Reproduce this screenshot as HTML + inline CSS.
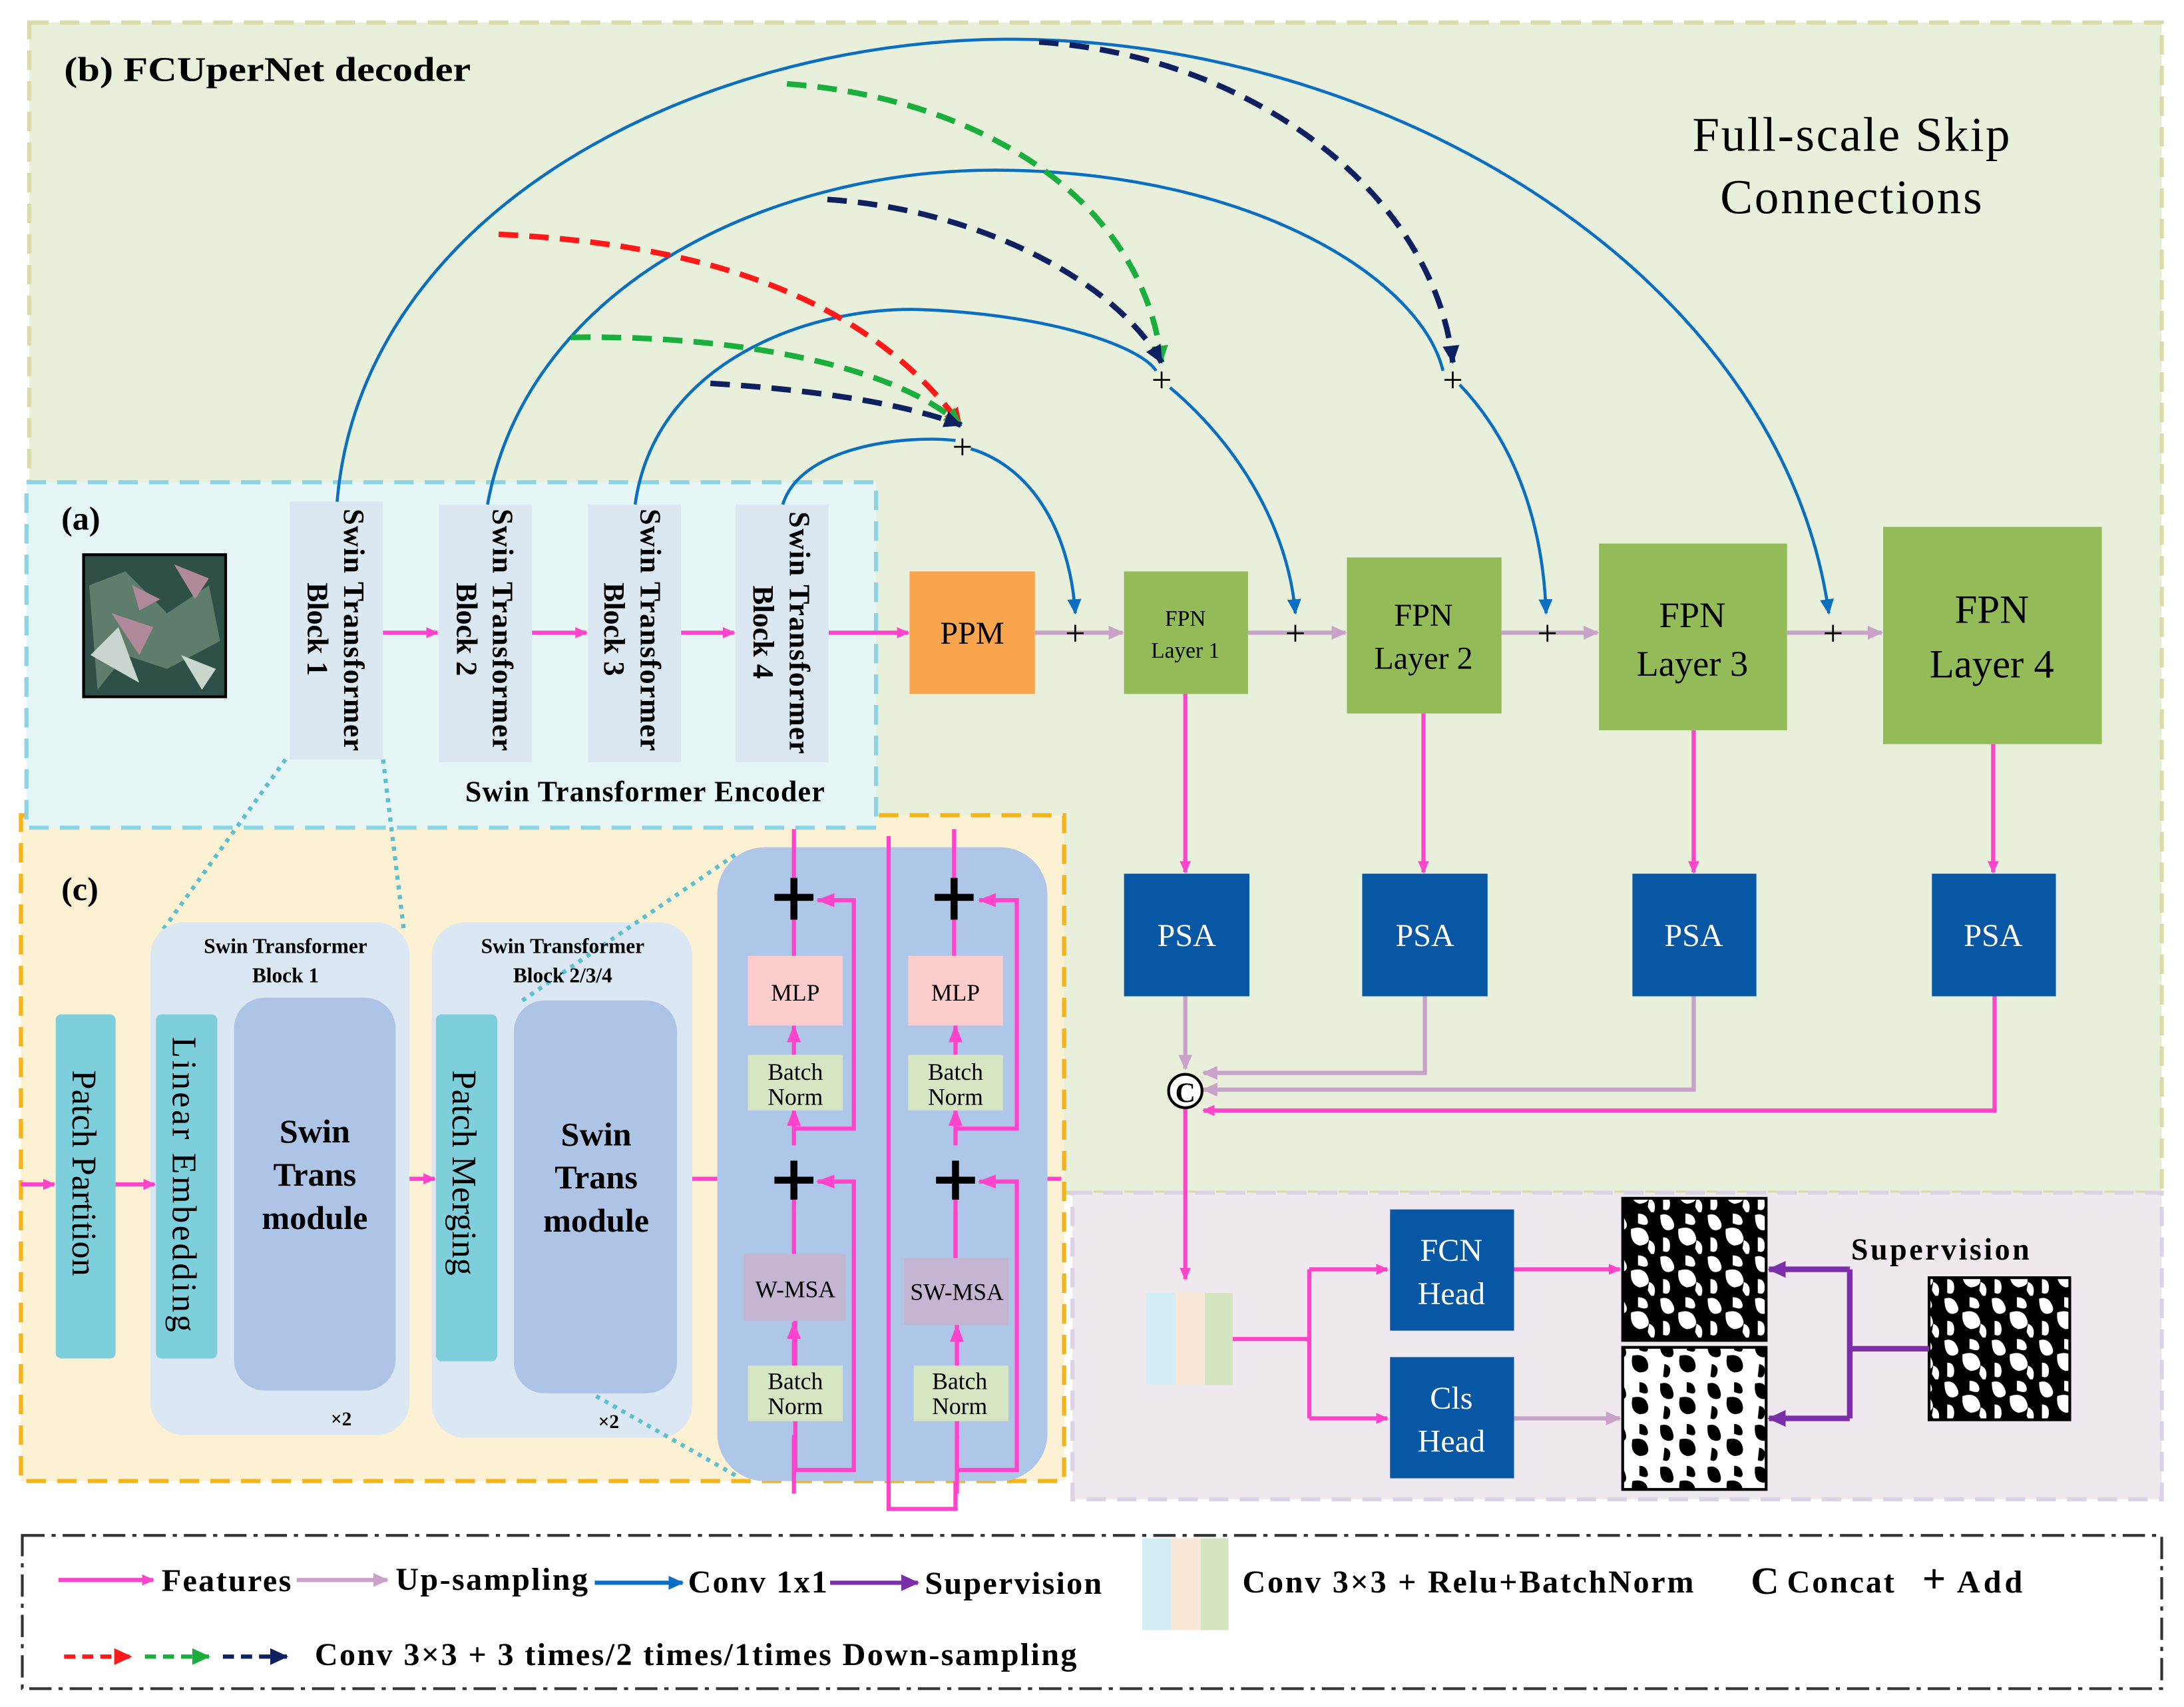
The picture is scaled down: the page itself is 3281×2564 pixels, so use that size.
<!DOCTYPE html>
<html><head><meta charset="utf-8"><style>
html,body{margin:0;padding:0;background:#fff}
svg{display:block}
text{font-family:"Liberation Serif",serif}
</style></head><body>
<svg width="3281" height="2564" viewBox="0 0 1568 1225" xmlns="http://www.w3.org/2000/svg">
<defs>
<marker id="pk" markerWidth="10" markerHeight="10" refX="8" refY="5" orient="auto" markerUnits="userSpaceOnUse"><path d="M0,1 L9,5 L0,9z" fill="#ff44cc"/></marker>
<marker id="pkL" markerWidth="14" markerHeight="12" refX="12" refY="6" orient="auto" markerUnits="userSpaceOnUse"><path d="M0,1 L13,6 L0,11z" fill="#ff44cc"/></marker>
<marker id="gy" markerWidth="12" markerHeight="12" refX="10" refY="6" orient="auto" markerUnits="userSpaceOnUse"><path d="M0,1 L11,6 L0,11z" fill="#c8a2c8"/></marker>
<marker id="bl" markerWidth="12" markerHeight="12" refX="10" refY="6" orient="auto" markerUnits="userSpaceOnUse"><path d="M0,1 L11,6 L0,11z" fill="#0a6fc2"/></marker>
<marker id="pu" markerWidth="14" markerHeight="14" refX="12" refY="7" orient="auto" markerUnits="userSpaceOnUse"><path d="M0,1 L13,7 L0,13z" fill="#7a2ea8"/></marker>
<marker id="rd" markerWidth="14" markerHeight="14" refX="12" refY="7" orient="auto" markerUnits="userSpaceOnUse"><path d="M0,1 L13,7 L0,13z" fill="#ff1a1a"/></marker>
<marker id="gn" markerWidth="14" markerHeight="14" refX="12" refY="7" orient="auto" markerUnits="userSpaceOnUse"><path d="M0,1 L13,7 L0,13z" fill="#1aae3c"/></marker>
<marker id="nv" markerWidth="14" markerHeight="14" refX="12" refY="7" orient="auto" markerUnits="userSpaceOnUse"><path d="M0,1 L13,7 L0,13z" fill="#0f2060"/></marker>
<pattern id="noise" width="34" height="30" patternUnits="userSpaceOnUse"><rect width="34" height="30" fill="#000"/><path d="M2,2 q6,-2 9,4 t-3,7 q-6,0 -6,-11z M15,12 q9,-3 12,4 t-6,8 q-7,-2 -6,-12z M4,18 q5,0 5,6 t-5,4z M20,1 q6,0 7,5 t-7,2z M28,20 q5,2 4,8 t-5,-2z" fill="#fff"/></pattern>
<pattern id="noise2" width="34" height="30" patternUnits="userSpaceOnUse"><rect width="34" height="30" fill="#fff"/><path d="M2,3 q7,-2 9,5 t-4,6 q-6,-1 -5,-11z M16,13 q9,-2 11,5 t-6,7 q-7,-2 -5,-12z M5,19 q5,1 4,6 t-5,3z M21,2 q5,0 6,5 t-6,2z" fill="#000"/></pattern>
</defs>

<rect x="21" y="16" width="1531" height="840" fill="#e8f0dc" stroke="#d9dba8" stroke-width="3" stroke-dasharray="14,8"/>
<rect x="770" y="856" width="782" height="220" fill="#efe8ef" stroke="#dcd4e6" stroke-width="3" stroke-dasharray="14,8"/>
<rect x="15" y="585" width="749" height="478" fill="#fdf1d3" stroke="#f4b41a" stroke-width="3" stroke-dasharray="14,8"/>
<rect x="19" y="346" width="610" height="248" fill="#e6f6f6" stroke="#8cd4e4" stroke-width="3" stroke-dasharray="14,8"/>
<rect x="16" y="1102" width="1536" height="110" fill="#fff" stroke="#333" stroke-width="2" stroke-dasharray="16,5,3,5"/>

<text x="46" y="58" font-size="25" font-weight="bold" textLength="292" lengthAdjust="spacingAndGlyphs">(b)  FCUperNet decoder</text>
<text x="1329" y="108" font-size="35" text-anchor="middle" textLength="228">Full-scale Skip</text>
<text x="1329" y="153" font-size="35" text-anchor="middle" textLength="188">Connections</text>
<text x="44" y="380" font-size="24" font-weight="bold">(a)</text>
<text x="44" y="646" font-size="24" font-weight="bold">(c)</text>

<rect x="60" y="398" width="102" height="102" fill="#2f5046" stroke="#000" stroke-width="2"/>
<path d="M64,420 L90,410 L120,440 L150,420 L158,460 L120,480 L90,470 L70,495z" fill="#5f7d6c"/>
<path d="M80,440 L110,450 L100,470z M125,405 L150,415 L140,430z M95,420 L115,430 L100,438z" fill="#b08a9a"/>
<path d="M65,470 L85,450 L100,490z M130,470 L155,480 L145,495z" fill="#c9d6d0"/>

<g fill="#dbe8f2">
<rect x="208" y="360" width="67" height="185"/><rect x="315" y="362" width="67" height="185"/>
<rect x="422" y="362" width="67" height="185"/><rect x="528" y="362" width="67" height="185"/>
</g>
<g font-size="21" font-weight="bold">
<text transform="translate(247,365) rotate(90)" textLength="174">Swin Transformer</text><text transform="translate(221,418) rotate(90)">Block 1</text>
<text transform="translate(354,365) rotate(90)" textLength="174">Swin Transformer</text><text transform="translate(328,418) rotate(90)">Block 2</text>
<text transform="translate(460,365) rotate(90)" textLength="174">Swin Transformer</text><text transform="translate(434,418) rotate(90)">Block 3</text>
<text transform="translate(567,367) rotate(90)" textLength="174">Swin Transformer</text><text transform="translate(541,420) rotate(90)">Block 4</text>
</g>
<g stroke="#ff44cc" stroke-width="3" marker-end="url(#pk)">
<line x1="275" y1="454" x2="314" y2="454"/><line x1="382" y1="454" x2="421" y2="454"/><line x1="489" y1="454" x2="527" y2="454"/><line x1="595" y1="454" x2="652" y2="454"/>
</g>
<text x="463" y="575" font-size="21" font-weight="bold" text-anchor="middle" textLength="258">Swin Transformer Encoder</text>

<rect x="653" y="410" width="90" height="88" fill="#f8a54e"/>
<text x="698" y="462" font-size="23" text-anchor="middle">PPM</text>
<g fill="#93bb58">
<rect x="807" y="410" width="89" height="88"/><rect x="967" y="400" width="111" height="112"/>
<rect x="1148" y="390" width="135" height="134"/><rect x="1352" y="378" width="157" height="156"/>
</g>
<text x="851" y="449" font-size="16" text-anchor="middle">FPN</text><text x="851" y="472" font-size="16" text-anchor="middle">Layer 1</text>
<text x="1022" y="449" font-size="23" text-anchor="middle">FPN</text><text x="1022" y="480" font-size="23" text-anchor="middle">Layer 2</text>
<text x="1215" y="450" font-size="26" text-anchor="middle">FPN</text><text x="1215" y="485" font-size="26" text-anchor="middle">Layer 3</text>
<text x="1430" y="447" font-size="29" text-anchor="middle">FPN</text><text x="1430" y="486" font-size="29" text-anchor="middle">Layer 4</text>

<g stroke="#c8a2c8" stroke-width="3" marker-end="url(#gy)">
<line x1="743" y1="454" x2="806" y2="454"/><line x1="896" y1="454" x2="966" y2="454"/>
<line x1="1078" y1="454" x2="1147" y2="454"/><line x1="1283" y1="454" x2="1351" y2="454"/>
</g>
<g font-size="26" text-anchor="middle"><text x="772" y="463">+</text><text x="930" y="463">+</text><text x="1111" y="463">+</text><text x="1316" y="463">+</text>
<text x="691" y="329">+</text><text x="834" y="281">+</text><text x="1043" y="281">+</text></g>

<g fill="none" stroke="#0a6fc2" stroke-width="2.2">
<path d="M242,360 C260,150 500,30 720,28 C1000,26 1280,200 1313,440" marker-end="url(#bl)"/>
<path d="M350,362 C380,200 560,120 720,122 C900,124 1020,200 1036,266"/>
<path d="M1048,276 C1090,320 1108,380 1110,440" marker-end="url(#bl)"/>
<path d="M456,362 C470,260 580,220 660,222 C760,226 820,250 830,266"/>
<path d="M840,278 C890,320 925,380 930,440" marker-end="url(#bl)"/>
<path d="M562,362 C575,320 650,312 686,316"/>
<path d="M697,322 C740,335 768,380 772,440" marker-end="url(#bl)"/>
</g>
<g fill="none" stroke-width="4" stroke-dasharray="14,8">
<path d="M358,168 C500,175 620,210 690,305" stroke="#ff1a1a" marker-end="url(#rd)"/>
<path d="M410,242 C520,240 640,260 690,305" stroke="#1aae3c" marker-end="url(#gn)"/>
<path d="M510,275 C590,280 650,290 690,305" stroke="#0f2060" marker-end="url(#nv)"/>
<path d="M565,60 C700,70 820,140 834,260" stroke="#1aae3c" marker-end="url(#gn)"/>
<path d="M594,143 C700,150 800,200 834,260" stroke="#0f2060" marker-end="url(#nv)"/>
<path d="M746,30 C900,40 1030,140 1043,260" stroke="#0f2060" marker-end="url(#nv)"/>
</g>

<g fill="#0757a4"><rect x="807" y="627" width="90" height="88"/><rect x="978" y="627" width="90" height="88"/><rect x="1172" y="627" width="89" height="88"/><rect x="1387" y="627" width="89" height="88"/></g>
<g fill="#fff" font-size="23" text-anchor="middle"><text x="852" y="679">PSA</text><text x="1023" y="679">PSA</text><text x="1216" y="679">PSA</text><text x="1431" y="679">PSA</text></g>
<g stroke="#ff44cc" stroke-width="3" marker-end="url(#pk)">
<line x1="851" y1="498" x2="851" y2="626"/><line x1="1022" y1="512" x2="1022" y2="626"/><line x1="1216" y1="524" x2="1216" y2="626"/><line x1="1431" y1="534" x2="1431" y2="626"/>
</g>
<g fill="none" stroke-width="3">
<path d="M851,715 V767" stroke="#c8a2c8" marker-end="url(#gy)"/>
<path d="M1023,715 V770 H864" stroke="#c8a2c8" marker-end="url(#gy)"/>
<path d="M1216,715 V782 H864" stroke="#c8a2c8" marker-end="url(#gy)"/>
<path d="M1432,715 V797 H864" stroke="#ff44cc" marker-end="url(#pk)"/>
<path d="M851,796 V918" stroke="#ff44cc" marker-end="url(#pk)"/>
</g>
<circle cx="851" cy="783" r="12" fill="#fff" stroke="#000" stroke-width="2"/>
<text x="851" y="791" font-size="20" font-weight="bold" text-anchor="middle">C</text>

<rect x="823" y="928" width="21" height="66" fill="#d4eef6"/><rect x="844" y="928" width="21" height="66" fill="#fbe8d8"/><rect x="865" y="928" width="20" height="66" fill="#d3e4c0"/>
<g fill="none" stroke="#ff44cc" stroke-width="3">
<path d="M885,961 H940"/><path d="M940,911 V1018"/>
<path d="M940,911 H996" marker-end="url(#pk)"/><path d="M940,1018 H996" marker-end="url(#pk)"/>
<path d="M1087,911 H1163" marker-end="url(#pk)"/>
</g>
<path d="M1087,1018 H1163" stroke="#c8a2c8" stroke-width="3" marker-end="url(#gy)"/>
<rect x="998" y="868" width="89" height="87" fill="#0757a4"/><rect x="998" y="974" width="89" height="87" fill="#0757a4"/>
<g fill="#fff" font-size="23" text-anchor="middle"><text x="1042" y="905">FCN</text><text x="1042" y="936">Head</text><text x="1042" y="1011">Cls</text><text x="1042" y="1042">Head</text></g>
<rect x="1165" y="860" width="103" height="102" fill="url(#noise)" stroke="#000" stroke-width="2"/>
<rect x="1165" y="967" width="103" height="102" fill="url(#noise2)" stroke="#000" stroke-width="2"/>
<rect x="1385" y="917" width="101" height="102" fill="url(#noise)" stroke="#000" stroke-width="2"/>
<text x="1393" y="904" font-size="22" font-weight="bold" text-anchor="middle" textLength="128">Supervision</text>
<g fill="none" stroke="#7a2ea8" stroke-width="4">
<path d="M1385,968 H1328"/><path d="M1328,911 V1018"/>
<path d="M1328,911 H1270" marker-end="url(#pu)"/><path d="M1328,1018 H1270" marker-end="url(#pu)"/>
</g>

<line x1="205" y1="545" x2="115" y2="670" stroke="#5bbfd0" stroke-width="3" stroke-dasharray="3,4"/>
<line x1="275" y1="545" x2="290" y2="668" stroke="#5bbfd0" stroke-width="3" stroke-dasharray="3,4"/>
<rect x="40" y="728" width="43" height="247" rx="4" fill="#7ecfdc"/>
<rect x="108" y="662" width="186" height="368" rx="24" fill="#dbe7f2"/>
<rect x="112" y="728" width="44" height="247" rx="4" fill="#7ecfdc"/>
<rect x="168" y="716" width="116" height="282" rx="22" fill="#aec4e6"/>
<rect x="310" y="662" width="187" height="370" rx="24" fill="#dbe7f2"/>
<rect x="313" y="728" width="44" height="249" rx="4" fill="#7ecfdc"/>
<rect x="369" y="718" width="117" height="282" rx="22" fill="#aec4e6"/>
<line x1="375" y1="718" x2="530" y2="612" stroke="#5bbfd0" stroke-width="3" stroke-dasharray="3,4"/>
<line x1="428" y1="1002" x2="530" y2="1060" stroke="#5bbfd0" stroke-width="3" stroke-dasharray="3,4"/>
<g font-size="15" font-weight="bold" text-anchor="middle"><text x="205" y="684">Swin Transformer</text><text x="205" y="705">Block 1</text>
<text x="404" y="684">Swin Transformer</text><text x="404" y="705">Block 2/3/4</text></g>
<g font-size="25"><text transform="translate(52,768) rotate(90)">Patch Partition</text><text transform="translate(124,744) rotate(90)" textLength="212">Linear Embedding</text><text transform="translate(325,768) rotate(90)">Patch Merging</text></g>
<g font-size="24" font-weight="bold" text-anchor="middle"><text x="226" y="820">Swin</text><text x="226" y="851">Trans</text><text x="226" y="882">module</text>
<text x="428" y="822">Swin</text><text x="428" y="853">Trans</text><text x="428" y="884">module</text></g>
<text x="245" y="1023" font-size="14" font-weight="bold" text-anchor="middle">×2</text><text x="437" y="1025" font-size="14" font-weight="bold" text-anchor="middle">×2</text>
<g stroke="#ff44cc" stroke-width="3" marker-end="url(#pk)"><line x1="15" y1="850" x2="39" y2="850"/><line x1="83" y1="850" x2="111" y2="850"/><line x1="294" y1="846" x2="312" y2="846"/></g>
<line x1="497" y1="846" x2="515" y2="846" stroke="#ff44cc" stroke-width="3"/>
<line x1="752" y1="846" x2="762" y2="846" stroke="#ff44cc" stroke-width="3"/>

<rect x="515" y="608" width="237" height="455" rx="34" fill="#aec6e8"/>
<g fill="none" stroke="#ff44cc" stroke-width="3">
<path d="M638,600 V1083 H686 V1063"/>
<path d="M570,595 V630"/><path d="M570,656 V686"/>
<path d="M685,595 V630"/><path d="M685,656 V686"/>
<path d="M570,870 V900"/><path d="M686,870 V903"/>
<path d="M570,1072 V1030"/><path d="M687,1072 V1030"/>
<path d="M571,911 V1055 H613 V848 H587" marker-end="url(#pkL)"/>
<path d="M687,911 V1055 H730 V848 H703" marker-end="url(#pkL)"/>
<path d="M570,822 V796" marker-end="url(#pkL)"/><path d="M570,757 V736" marker-end="url(#pkL)"/>
<path d="M686,822 V796" marker-end="url(#pkL)"/><path d="M686,757 V736" marker-end="url(#pkL)"/>
<path d="M570,980 V949" marker-end="url(#pkL)"/>
<path d="M687,980 V951" marker-end="url(#pkL)"/>
<path d="M570,838 V910"/><path d="M686,838 V910"/>
<path d="M571,810 H613 V646 H587" marker-end="url(#pkL)"/>
<path d="M687,810 H730 V646 H703" marker-end="url(#pkL)"/>
</g>
<g stroke="#000" stroke-width="5"><path d="M556,644 H584 M570,630 V660"/><path d="M671,644 H699 M685,630 V660"/>
<path d="M556,847 H584 M570,833 V861"/><path d="M672,847 H700 M686,833 V861"/></g>
<rect x="537" y="686" width="68" height="50" fill="#fdcdcc"/><rect x="652" y="686" width="68" height="50" fill="#fdcdcc"/>
<rect x="537" y="757" width="68" height="40" fill="#d6e6c2"/><rect x="652" y="757" width="68" height="40" fill="#d6e6c2"/>
<rect x="534" y="900" width="73" height="48" fill="#c4b6d2"/><rect x="649" y="903" width="75" height="48" fill="#c4b6d2"/>
<rect x="537" y="980" width="68" height="40" fill="#d6e6c2"/><rect x="656" y="980" width="68" height="40" fill="#d6e6c2"/>
<g font-size="17" text-anchor="middle">
<text x="571" y="718">MLP</text><text x="686" y="718">MLP</text>
<text x="571" y="775">Batch</text><text x="571" y="793">Norm</text><text x="686" y="775">Batch</text><text x="686" y="793">Norm</text>
<text x="571" y="931">W-MSA</text><text x="687" y="933">SW-MSA</text>
<text x="571" y="997">Batch</text><text x="571" y="1015">Norm</text><text x="689" y="997">Batch</text><text x="689" y="1015">Norm</text>
</g>

<g stroke-width="3">
<line x1="42" y1="1134" x2="110" y2="1134" stroke="#ff44cc" marker-end="url(#pk)"/>
<line x1="213" y1="1134" x2="278" y2="1134" stroke="#c8a2c8" marker-end="url(#gy)"/>
<line x1="427" y1="1136" x2="490" y2="1136" stroke="#0a6fc2" marker-end="url(#bl)"/>
<line x1="596" y1="1136" x2="659" y2="1136" stroke="#7a2ea8" marker-end="url(#pu)"/>
</g>
<g stroke-width="3" stroke-dasharray="8,5">
<line x1="46" y1="1189" x2="94" y2="1189" stroke="#ff1a1a" marker-end="url(#rd)"/>
<line x1="104" y1="1189" x2="150" y2="1189" stroke="#1aae3c" marker-end="url(#gn)"/>
<line x1="160" y1="1189" x2="206" y2="1189" stroke="#0f2060" marker-end="url(#nv)"/>
</g>
<rect x="820" y="1104" width="21" height="66" fill="#d4eef6"/><rect x="841" y="1104" width="21" height="66" fill="#fbe8d8"/><rect x="862" y="1104" width="20" height="66" fill="#d3e4c0"/>
<g font-size="23" font-weight="bold">
<text x="116" y="1142" textLength="93">Features</text><text x="284" y="1141" textLength="138">Up-sampling</text><text x="494" y="1143" textLength="100">Conv 1x1</text><text x="664" y="1144" textLength="127">Supervision</text>
<text x="892" y="1143" textLength="324">Conv 3×3 + Relu+BatchNorm</text>
<text x="1257" y="1144" font-size="28">C</text><text x="1283" y="1143" textLength="77">Concat</text>
<text x="1380" y="1143" font-size="30">+</text><text x="1405" y="1143" textLength="47">Add</text>
<text x="226" y="1195" textLength="547">Conv 3×3 + 3 times/2 times/1times Down-sampling</text>
</g>
</svg>
</body></html>
